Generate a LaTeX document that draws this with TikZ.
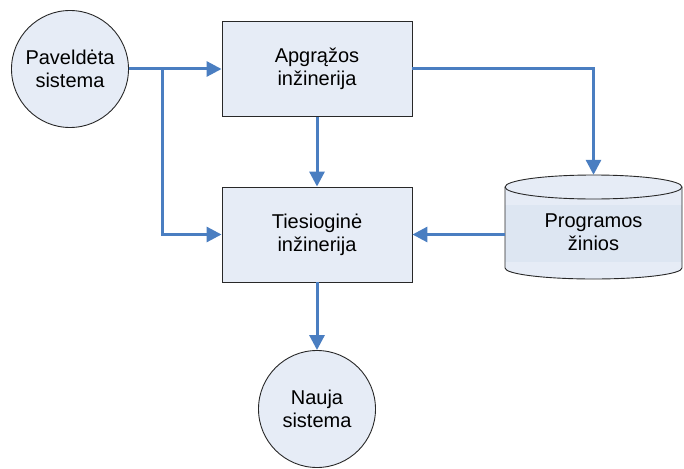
\documentclass[tikz,border=0pt]{standalone}
\usepackage{fontspec}
\setmainfont{Liberation Sans}
\usetikzlibrary{arrows.meta}
\definecolor{boxfill}{RGB}{230,236,246}
\definecolor{bandfill}{RGB}{221,230,242}
\definecolor{flow}{RGB}{74,126,193}
\definecolor{edge}{RGB}{40,40,40}
\begin{document}
\begin{tikzpicture}[x=1pt,y=-1pt,
  every node/.style={font=\fontsize{20}{23}\selectfont, align=center},
  procbox/.style={draw=edge, line width=0.9pt, fill=boxfill, minimum width=190pt, minimum height=95pt, inner sep=0pt},
  sysdisc/.style={draw=edge, line width=0.9pt, fill=boxfill, circle, minimum size=117pt, inner sep=0pt},
  storebox/.style={minimum width=177pt, minimum height=105pt, inner sep=0pt},
  flowline/.style={draw=flow, line width=3pt},
  arr/.style={flowline, -{Triangle[length=15pt,width=15pt]}}]
\useasboundingbox (0,0) rectangle (684,468);

% processes and systems
\node[sysdisc] (pav) at (70,69) {Paveldėta\\sistema};
\node[procbox] (apg) at (317,69) {Apgrąžos\\inžinerija};
\node[procbox] (ties) at (317,234.5) {Tiesioginė\\inžinerija};
\node[sysdisc] (nau) at (317,409) {Nauja\\sistema};

% data store drawn as a cylinder around its node
\node[storebox] (pz) at (593.5,227.5) {};
\path[fill=boxfill] (505,187) arc[start angle=180, end angle=360, x radius=88.5, y radius=12]
  -- (682,268) arc[start angle=0, end angle=180, x radius=88.5, y radius=11] -- cycle;
\fill[bandfill] (505,205) rectangle (682,262);
\draw[edge, line width=0.9pt] (505,187) arc[start angle=180, end angle=360, x radius=88.5, y radius=12]
  -- (682,268) arc[start angle=0, end angle=180, x radius=88.5, y radius=11] -- cycle;
\draw[edge, line width=0.9pt] (505,187) arc[start angle=180, end angle=0, x radius=88.5, y radius=12];
\node at (593.5,232) {Programos\\žinios};

% flows
\coordinate (br) at (162,69);
\draw[arr] (pav.east) -- (apg.west);
\draw[arr] (br) |- (ties.west);
\draw[arr] (apg.south) -- (ties.north);
\draw[arr] (apg.east) -| (pz.north);
\draw[arr] (pz.west |- ties.east) -- (ties.east);
\draw[arr] (ties.south) -- (nau.north);
\end{tikzpicture}
\end{document}
